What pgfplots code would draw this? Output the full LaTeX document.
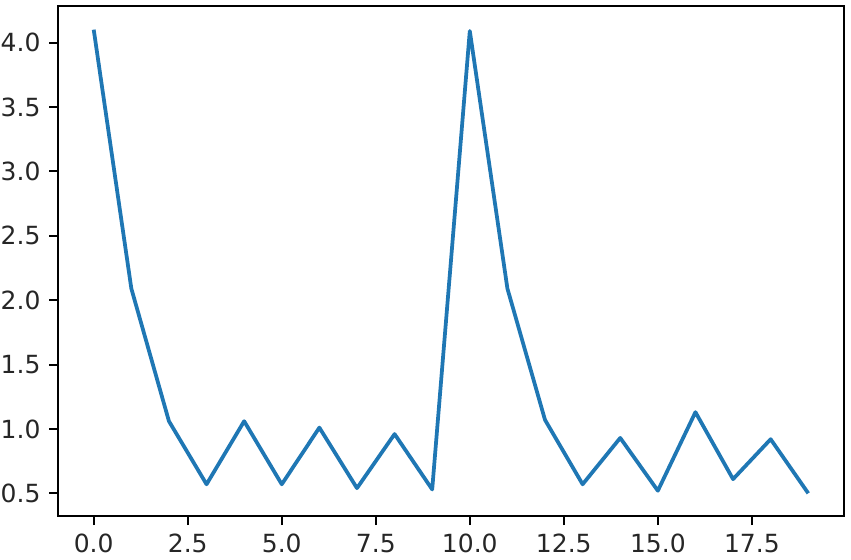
\documentclass[border=0pt]{standalone}
\usepackage{fontspec}
\setmainfont{DejaVu Sans}
\usepackage{pgfplots}
\pgfplotsset{compat=1.18}
\definecolor{mplblue}{HTML}{1F77B4}
\begin{document}
\begin{tikzpicture}
\useasboundingbox (-23.2pt,-17.3pt) rectangle (317.2pt,206.6pt);
\begin{axis}[
  at={(0,0)}, anchor=south west,
  scale only axis,
  width=314.4pt, height=204pt,
  xmin=-0.95, xmax=19.95,
  ymin=0.32, ymax=4.28,
  xtick={0,2.5,5,7.5,10,12.5,15,17.5},
  ytick={0.5,1,1.5,2,2.5,3,3.5,4},
  tick align=outside,
  tick pos=left,
  major tick length=3.5pt,
  every tick/.style={black, line width=0.8pt},
  axis line style={line width=0.8pt},
  tick label style={font=\fontsize{10}{12}\selectfont, text=black!85},
  /pgf/number format/assume math mode=true,
  /pgf/number format/.cd, fixed, fixed zerofill, precision=1,
]
\addplot[mplblue, line width=1.5pt, line join=round] coordinates {
(0,4.10) (1,2.09) (2,1.06) (3,0.57) (4,1.06) (5,0.57) (6,1.01) (7,0.54) (8,0.96) (9,0.53)
(10,4.09) (11,2.09) (12,1.07) (13,0.57) (14,0.93) (15,0.52) (16,1.13) (17,0.61) (18,0.92) (19,0.50)
};
\end{axis}
\end{tikzpicture}
\end{document}
